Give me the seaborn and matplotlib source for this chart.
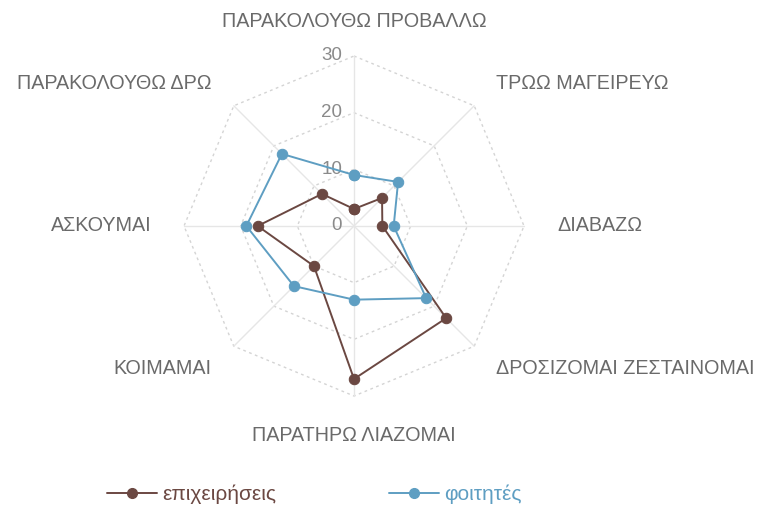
import numpy as np
import pandas as pd
import matplotlib
matplotlib.use("Agg")
import matplotlib.pyplot as plt
from matplotlib.lines import Line2D
import seaborn as sns

# Activities (clockwise from the top) and the two compared groups
categories = [
    "ΠΑΡΑΚΟΛΟΥΘΩ ΠΡΟΒΑΛΛΩ",
    "ΤΡΩΩ ΜΑΓΕΙΡΕΥΩ",
    "ΔΙΑΒΑΖΩ",
    "ΔΡΟΣΙΖΟΜΑΙ ΖΕΣΤΑΙΝΟΜΑΙ",
    "ΠΑΡΑΤΗΡΩ ΛΙΑΖΟΜΑΙ",
    "ΚΟΙΜΑΜΑΙ",
    "ΑΣΚΟΥΜΑΙ",
    "ΠΑΡΑΚΟΛΟΥΘΩ ΔΡΩ",
]
epixeiriseis = [3, 7, 5, 23, 27, 10, 17, 8]
foitites = [9, 11, 7, 18, 13, 15, 19, 18]
series_names = ["επιχειρήσεις", "φοιτητές"]
radial_ticks = [0, 10, 20, 30]

colors = {"επιχειρήσεις": "#6b4842", "φοιτητές": "#5e9ec2"}
grid_color = "#d4d4d4"
text_color = "#6a6a6a"

sns.set_theme(style="white")
plt.rcParams["font.family"] = ["Liberation Sans", "DejaVu Sans"]

n = len(categories)
angles = np.linspace(0, 2 * np.pi, n, endpoint=False)

# long-form table, closing each polygon with its first point
rows = []
for name, vals in zip(series_names, [epixeiriseis, foitites]):
    for a, v in zip(list(angles) + [2 * np.pi], list(vals) + [vals[0]]):
        rows.append({"angle": a, "value": v, "series": name})
df = pd.DataFrame(rows)

fig = plt.figure(figsize=(7.67, 5.09), dpi=100)
ax = fig.add_axes([0.2399, 0.222, 0.4433, 0.668], projection="polar")
ax.set_theta_zero_location("N")
ax.set_theta_direction(-1)
ax.set_ylim(0, 30)
ax.grid(False)
ax.spines["polar"].set_visible(False)
ax.set_xticks([])
ax.set_yticks([])
ax.set_facecolor("none")

# octagonal dotted rings and solid spokes
ring_angles = list(angles) + [angles[0]]
for r in radial_ticks[1:]:
    ax.plot(ring_angles, [r] * len(ring_angles), color=grid_color,
            lw=1.0, ls=(0, (2, 2.5)), clip_on=False, zorder=1)
for a in angles:
    ax.plot([a, a], [0, 30], color="#e6e6e6", lw=1.0, clip_on=False, zorder=1)

sns.lineplot(data=df, x="angle", y="value", hue="series", palette=colors,
             hue_order=series_names, sort=False, estimator=None,
             marker="o", markersize=7.5, lw=1.4, legend=False, ax=ax, zorder=3)
for line in ax.lines[-2:]:
    line.set_markeredgecolor(line.get_color())
    line.set_clip_on(False)
ax.set_xlabel("")
ax.set_ylabel("")

# radial tick labels just left of the vertical axis
for r in radial_ticks:
    ax.annotate(str(r), xy=(0, r), xytext=(-8.5, 0), textcoords="offset points",
                ha="right", va="center", fontsize=13.5, color="#8a8a8a", zorder=2)

# category labels around the chart
label_pos = [
    (36.0, "center", "center"),
    (35.5, "left", "center"),
    (35.8, "left", "center"),
    (35.5, "left", "center"),
    (37.0, "center", "center"),
    (35.5, "right", "center"),
    (35.8, "right", "center"),
    (35.5, "right", "center"),
]
for a, cat, (r, ha, va) in zip(angles, categories, label_pos):
    ax.text(a, r, cat, ha=ha, va=va, fontsize=14.2, color=text_color)

handles = [Line2D([], [], color=colors[s], marker="o", markersize=7,
                  lw=1.4, markeredgecolor=colors[s]) for s in series_names]
leg = fig.legend(handles, series_names, loc="center", ncol=2,
                 bbox_to_anchor=(0.41, 0.028), frameon=False, fontsize=15,
                 handlelength=2.4, handletextpad=0.25, columnspacing=5.4,
                 labelcolor="linecolor")

fig.savefig("out.png", dpi=100, facecolor="white")
